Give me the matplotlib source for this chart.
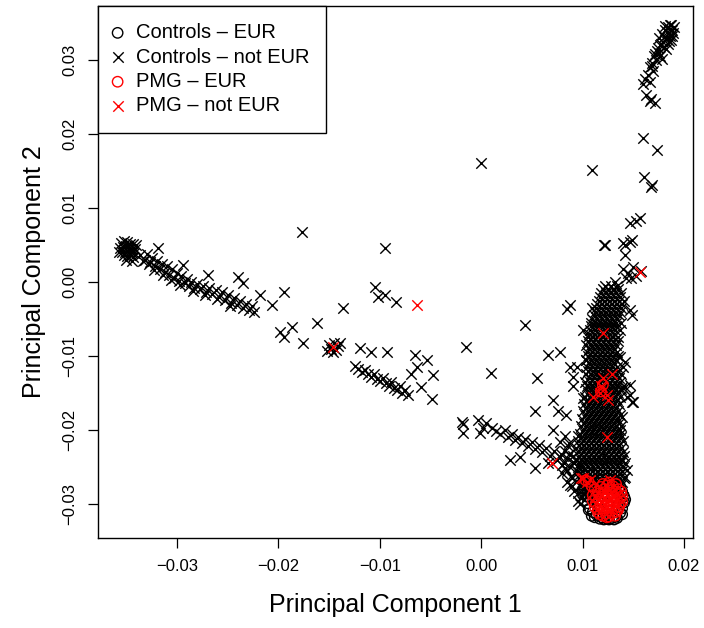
import matplotlib
matplotlib.use("Agg")
import matplotlib.pyplot as plt
import numpy as np

plt.rcParams['font.family'] = ['Liberation Sans', 'DejaVu Sans']

# ---- data ----
x_ticks = [-0.03, -0.02, -0.01, 0.00, 0.01, 0.02]
x_tick_labels = ['\u22120.03', '\u22120.02', '\u22120.01', '0.00', '0.01', '0.02']
y_ticks = [-0.03, -0.02, -0.01, 0.00, 0.01, 0.02, 0.03]
y_tick_labels = ['\u22120.03', '\u22120.02', '\u22120.01', '0.00', '0.01', '0.02', '0.03']
legend_labels = ['Controls \u2013 EUR', 'Controls \u2013 not EUR', 'PMG \u2013 EUR', 'PMG \u2013 not EUR']

# controls, not EUR: left blob and trail
left_x = [-0.0355, -0.0352, -0.0349, -0.0346, -0.0343, -0.0340, -0.0356, -0.0353, -0.0350, -0.0347,
          -0.0344, -0.0341, -0.0354, -0.0351, -0.0348, -0.0345, -0.0342, -0.0352, -0.0349, -0.0346,
          -0.0343, -0.0357, -0.0350, -0.0344,
          -0.0336, -0.0332, -0.0330, -0.0327, -0.0325, -0.0322, -0.0320, -0.0319, -0.0317, -0.0315,
          -0.0312, -0.0310, -0.0308, -0.0305, -0.0303, -0.0300, -0.0298, -0.0296, -0.0294, -0.0292,
          -0.0290, -0.0288, -0.0286, -0.0283, -0.0280, -0.0277, -0.0274, -0.0271, -0.0269, -0.0268,
          -0.0265, -0.0262, -0.0259, -0.0256, -0.0253, -0.0250, -0.0247, -0.0244, -0.0241, -0.0240,
          -0.0238, -0.0235, -0.0235, -0.0232, -0.0229, -0.0226, -0.0224,
          -0.0218, -0.0206, -0.0194, -0.0198, -0.0187, -0.0194, -0.0177, -0.0176, -0.0162,
          -0.0334, -0.0328, -0.0323, -0.0314, -0.0306, -0.0297, -0.0284, -0.0272, -0.0261, -0.0248]
left_y = [0.0053, 0.0055, 0.0054, 0.0052, 0.0051, 0.0050, 0.0046, 0.0047, 0.0048, 0.0046,
          0.0045, 0.0044, 0.0041, 0.0040, 0.0042, 0.0040, 0.0039, 0.0036, 0.0035, 0.0037,
          0.0034, 0.0040, 0.0030, 0.0028,
          0.0036, 0.0030, 0.0038, 0.0027, 0.0033, 0.0022, 0.0029, 0.0046, 0.0018, 0.0025,
          0.0014, 0.0021, 0.0010, 0.0017, 0.0006, 0.0012, 0.0002, 0.0008, 0.0023, -0.0002,
          0.0004, -0.0006, 0.0000, -0.0008, -0.0003, -0.0010, -0.0005, -0.0014, 0.0009, -0.0008,
          -0.0016, -0.0011, -0.0020, -0.0014, -0.0024, -0.0018, -0.0028, -0.0022, -0.0031, 0.0007,
          -0.0026, -0.0001, -0.0035, -0.0030, -0.0038, -0.0033, -0.0040,
          -0.0018, -0.0031, -0.0014, -0.0068, -0.0061, -0.0074, 0.0068, -0.0082, -0.0055,
          0.0029, 0.0024, 0.0016, 0.0009, 0.0003, -0.0004, -0.0012, -0.0018, -0.0023, -0.0032]

# controls, not EUR: middle region
mid_x = [-0.0150, -0.0148, -0.0145, -0.0143, -0.0141, -0.0152, -0.0146, -0.0139,
         -0.0136, -0.0120, -0.0109, -0.0093, -0.0095, -0.0105, -0.0102, -0.0095, -0.0084,
         -0.0015, 0.0010, 0.0000,
         -0.0124, -0.0121, -0.0118, -0.0115, -0.0112, -0.0109, -0.0106, -0.0103, -0.0100, -0.0097,
         -0.0094, -0.0091, -0.0089, -0.0086, -0.0083, -0.0080, -0.0078, -0.0075, -0.0072,
         -0.0065, -0.0053, -0.0063, -0.0048, -0.0059, -0.0049, -0.0069]
mid_y = [-0.0085, -0.0090, -0.0083, -0.0092, -0.0087, -0.0093, -0.0095, -0.0082,
         -0.0035, -0.0089, -0.0095, -0.0095, 0.0046, -0.0007, -0.0020, -0.0018, -0.0027,
         -0.0088, -0.0123, 0.0161,
         -0.0113, -0.0118, -0.0121, -0.0119, -0.0124, -0.0128, -0.0125, -0.0131, -0.0134, -0.0130,
         -0.0137, -0.0140, -0.0135, -0.0143, -0.0146, -0.0140, -0.0150, -0.0146, -0.0153,
         -0.0099, -0.0105, -0.0115, -0.0126, -0.0142, -0.0158, -0.0125]

# controls, not EUR: bottom arm towards the main cluster
arm_x = [-0.0019, -0.0018, -0.0018, -0.0003, -0.0001, 0.0002, 0.0011, 0.0005, 0.0015, 0.0019,
         0.0023, 0.0026, 0.0030, 0.0033, 0.0036, 0.0040, 0.0043, 0.0046, 0.0050, 0.0053,
         0.0057, 0.0053, 0.0076, 0.0028, 0.0038, 0.0053, 0.0071, 0.0078, 0.0060, 0.0064,
         0.0068, 0.0072, 0.0075, 0.0079, 0.0082, 0.0085, 0.0088, 0.0091, 0.0094, 0.0097,
         0.0089, 0.0093, 0.0098, 0.0101, 0.0103, 0.0086, 0.0083, 0.0066, 0.0080, 0.0085,
         0.0092, 0.0099, 0.0087, 0.0090, 0.0083, 0.0095, 0.0097,
         0.0085, 0.0090, 0.0080, 0.0088, 0.0095, 0.0078, 0.0083, 0.0087]
arm_y = [-0.0189, -0.0192, -0.0204, -0.0186, -0.0204, -0.0197, -0.0197, -0.0190, -0.0202, -0.0205,
         -0.0200, -0.0210, -0.0206, -0.0214, -0.0209, -0.0218, -0.0212, -0.0222, -0.0216, -0.0226,
         -0.0220, -0.0174, -0.0174, -0.0241, -0.0236, -0.0251, -0.0200, -0.0216, -0.0230, -0.0224,
         -0.0235, -0.0228, -0.0240, -0.0232, -0.0245, -0.0238, -0.0250, -0.0243, -0.0256, -0.0249,
         -0.0262, -0.0270, -0.0276, -0.0262, -0.0284, -0.0222, -0.0208, -0.0244, -0.0258, -0.0270,
         -0.0282, -0.0290, -0.0232, -0.0276, -0.0252, -0.0296, -0.0300,
         -0.0255, -0.0265, -0.0248, -0.0275, -0.0285, -0.0237, -0.0228, -0.0218]

# controls, not EUR: scattered points beside the vertical band
side_x = [0.0043, 0.0088, 0.0078, 0.0066, 0.0055, 0.0071, 0.0084, 0.0095, 0.0100, 0.0094,
          0.0100, 0.0103, 0.0085, 0.0109, 0.0088, 0.0091, 0.0091,
          0.0122, 0.0142, 0.0147, 0.0142, 0.0140, 0.0145, 0.0150, 0.0153, 0.0148, 0.0158, 0.0143,
          0.0147, 0.0149, 0.0137, 0.0142, 0.0140, 0.0142, 0.0147, 0.0149, 0.0139, 0.0147, 0.0144,
          0.0150, 0.0139, 0.0137, 0.0139, 0.0144, 0.0142, 0.0132]
side_y = [-0.0058, -0.0031, -0.0095, -0.0099, -0.0130, -0.0159, -0.0180, -0.0208, -0.0157, -0.0115,
          -0.0065, -0.0105, -0.0036, -0.0035, -0.0115, -0.0128, -0.0141,
          0.0050, 0.0050, 0.0054, 0.0036, 0.0018, 0.0012, 0.0020, 0.0008, 0.0005, 0.0015, 0.0005,
          -0.0038, -0.0045, -0.0101, -0.0108, -0.0115, -0.0142, -0.0153, -0.0162, -0.0142, -0.0139,
          -0.0155, -0.0162, -0.0182, -0.0200, -0.0241, -0.0254, -0.0264, 0.0000]

# controls, not EUR: top right group
top_x = [0.0178, 0.0181, 0.0184, 0.0187, 0.0182, 0.0185, 0.0188, 0.0179, 0.0183, 0.0186,
         0.0189, 0.0176, 0.0180, 0.0184, 0.0190, 0.0186, 0.0181, 0.0175, 0.0187,
         0.0173, 0.0170, 0.0172, 0.0168, 0.0166, 0.0169, 0.0164, 0.0162, 0.0166, 0.0160,
         0.0175, 0.0178, 0.0163, 0.0167, 0.0171, 0.0166,
         0.0160, 0.0173, 0.0109, 0.0161, 0.0167, 0.0168, 0.0147, 0.0157, 0.0153, 0.0121,
         0.0140, 0.0149,
         0.0183, 0.0188, 0.0180, 0.0185, 0.0177, 0.0182, 0.0174, 0.0171, 0.0176, 0.0168]
top_y = [0.0335, 0.0340, 0.0344, 0.0347, 0.0330, 0.0336, 0.0341, 0.0325, 0.0328, 0.0332,
         0.0337, 0.0320, 0.0318, 0.0322, 0.0344, 0.0348, 0.0346, 0.0330, 0.0327,
         0.0312, 0.0305, 0.0300, 0.0296, 0.0290, 0.0285, 0.0280, 0.0274, 0.0270, 0.0268,
         0.0310, 0.0302, 0.0253, 0.0248, 0.0242, 0.0245,
         0.0195, 0.0178, 0.0151, 0.0142, 0.0128, 0.0131, 0.0080, 0.0086, 0.0083, 0.0050,
         0.0053, 0.0057,
         0.0338, 0.0333, 0.0331, 0.0326, 0.0322, 0.0315, 0.0316, 0.0308, 0.0306, 0.0292]

# controls, not EUR: the dense vertical band, one row of PC1 values per PC2 level
band_y = [-0.0010, -0.0020, -0.0030, -0.0040, -0.0050, -0.0060, -0.0070, -0.0080, -0.0090,
          -0.0100, -0.0110, -0.0120, -0.0130, -0.0140, -0.0150, -0.0160, -0.0170, -0.0180,
          -0.0190, -0.0200, -0.0210, -0.0220, -0.0230, -0.0240, -0.0250, -0.0260, -0.0270,
          -0.0280, -0.0290]
band_x = [
    [0.0120, 0.0125, 0.0130, 0.0135],
    [0.0117, 0.0122, 0.0127, 0.0132, 0.0137],
    [0.0114, 0.0119, 0.0124, 0.0129, 0.0134, 0.0139],
    [0.0112, 0.0117, 0.0122, 0.0127, 0.0132, 0.0137],
    [0.0109, 0.0114, 0.0119, 0.0124, 0.0129, 0.0134],
    [0.0108, 0.0113, 0.0118, 0.0123, 0.0128, 0.0133],
    [0.0106, 0.0111, 0.0116, 0.0121, 0.0126, 0.0131],
    [0.0105, 0.0110, 0.0115, 0.0120, 0.0125, 0.0130, 0.0135],
    [0.0106, 0.0111, 0.0116, 0.0121, 0.0126, 0.0131],
    [0.0105, 0.0110, 0.0115, 0.0120, 0.0125, 0.0130, 0.0135],
    [0.0106, 0.0111, 0.0116, 0.0121, 0.0126, 0.0131],
    [0.0105, 0.0110, 0.0115, 0.0120, 0.0125, 0.0130, 0.0135],
    [0.0106, 0.0111, 0.0116, 0.0121, 0.0126, 0.0131, 0.0136],
    [0.0104, 0.0109, 0.0114, 0.0119, 0.0124, 0.0129, 0.0134],
    [0.0105, 0.0110, 0.0115, 0.0120, 0.0125, 0.0130, 0.0135],
    [0.0104, 0.0109, 0.0114, 0.0119, 0.0124, 0.0129, 0.0134],
    [0.0103, 0.0108, 0.0113, 0.0118, 0.0123, 0.0128, 0.0133],
    [0.0102, 0.0107, 0.0112, 0.0117, 0.0122, 0.0127, 0.0132, 0.0137],
    [0.0101, 0.0106, 0.0111, 0.0116, 0.0121, 0.0126, 0.0131, 0.0136],
    [0.0100, 0.0105, 0.0110, 0.0115, 0.0120, 0.0125, 0.0130, 0.0135],
    [0.0098, 0.0103, 0.0108, 0.0113, 0.0118, 0.0123, 0.0128, 0.0133, 0.0138],
    [0.0096, 0.0101, 0.0106, 0.0111, 0.0116, 0.0121, 0.0126, 0.0131, 0.0136],
    [0.0095, 0.0100, 0.0105, 0.0110, 0.0115, 0.0120, 0.0125, 0.0130, 0.0135, 0.0140],
    [0.0093, 0.0098, 0.0103, 0.0108, 0.0113, 0.0118, 0.0123, 0.0128, 0.0133, 0.0138],
    [0.0095, 0.0100, 0.0105, 0.0110, 0.0115, 0.0120, 0.0125, 0.0130, 0.0135, 0.0140],
    [0.0097, 0.0102, 0.0107, 0.0112, 0.0117, 0.0122, 0.0127, 0.0132, 0.0137],
    [0.0099, 0.0104, 0.0109, 0.0114, 0.0119, 0.0124, 0.0129, 0.0134, 0.0139],
    [0.0101, 0.0106, 0.0111, 0.0116, 0.0121, 0.0126, 0.0131, 0.0136],
    [0.0104, 0.0109, 0.0114, 0.0135, 0.0140],
]
band2_y = [-0.0005, -0.0015, -0.0025, -0.0035, -0.0045, -0.0055, -0.0065, -0.0075, -0.0085,
           -0.0095, -0.0105, -0.0115, -0.0125, -0.0135, -0.0145, -0.0155, -0.0165, -0.0175,
           -0.0185, -0.0195, -0.0205, -0.0215, -0.0225, -0.0235, -0.0245, -0.0255, -0.0265,
           -0.0275, -0.0285]
band2_x = [
    [0.0122, 0.0128, 0.0134],
    [0.0118, 0.0123, 0.0128, 0.0133, 0.0138],
    [0.0116, 0.0121, 0.0126, 0.0131, 0.0136, 0.0141],
    [0.0113, 0.0118, 0.0123, 0.0128, 0.0133, 0.0138],
    [0.0111, 0.0116, 0.0121, 0.0126, 0.0131, 0.0136],
    [0.0108, 0.0113, 0.0118, 0.0123, 0.0128, 0.0133, 0.0138],
    [0.0107, 0.0112, 0.0117, 0.0122, 0.0127, 0.0132, 0.0137],
    [0.0105, 0.0110, 0.0115, 0.0120, 0.0125, 0.0130, 0.0135],
    [0.0103, 0.0108, 0.0113, 0.0118, 0.0123, 0.0128, 0.0133],
    [0.0104, 0.0109, 0.0114, 0.0119, 0.0124, 0.0129, 0.0134],
    [0.0103, 0.0108, 0.0113, 0.0118, 0.0123, 0.0128, 0.0133],
    [0.0104, 0.0109, 0.0114, 0.0119, 0.0124, 0.0129, 0.0134],
    [0.0103, 0.0108, 0.0113, 0.0118, 0.0123, 0.0128, 0.0133, 0.0138],
    [0.0102, 0.0107, 0.0112, 0.0117, 0.0122, 0.0127, 0.0132, 0.0137],
    [0.0103, 0.0108, 0.0113, 0.0118, 0.0123, 0.0128, 0.0133, 0.0138],
    [0.0102, 0.0107, 0.0112, 0.0117, 0.0122, 0.0127, 0.0132, 0.0137],
    [0.0101, 0.0106, 0.0111, 0.0116, 0.0121, 0.0126, 0.0131, 0.0136],
    [0.0100, 0.0105, 0.0110, 0.0115, 0.0120, 0.0125, 0.0130, 0.0135],
    [0.0099, 0.0104, 0.0109, 0.0114, 0.0119, 0.0124, 0.0129, 0.0134],
    [0.0098, 0.0103, 0.0108, 0.0113, 0.0118, 0.0123, 0.0128, 0.0133, 0.0138],
    [0.0097, 0.0102, 0.0107, 0.0112, 0.0117, 0.0122, 0.0127, 0.0132, 0.0137],
    [0.0095, 0.0100, 0.0105, 0.0110, 0.0115, 0.0120, 0.0125, 0.0130, 0.0135, 0.0140],
    [0.0093, 0.0098, 0.0103, 0.0108, 0.0113, 0.0118, 0.0123, 0.0128, 0.0133, 0.0138],
    [0.0091, 0.0096, 0.0101, 0.0106, 0.0111, 0.0116, 0.0121, 0.0126, 0.0131, 0.0136, 0.0141],
    [0.0092, 0.0097, 0.0102, 0.0107, 0.0112, 0.0117, 0.0122, 0.0127, 0.0132, 0.0137, 0.0142],
    [0.0094, 0.0099, 0.0104, 0.0109, 0.0114, 0.0119, 0.0124, 0.0129, 0.0134, 0.0139],
    [0.0096, 0.0101, 0.0106, 0.0111, 0.0116, 0.0121, 0.0126, 0.0131, 0.0136, 0.0141],
    [0.0098, 0.0103, 0.0108, 0.0113, 0.0118, 0.0123, 0.0128, 0.0133, 0.0138],
    [0.0101, 0.0106, 0.0111, 0.0132, 0.0137],
]

# controls, EUR (black circles)
ctrl_eur_x = [0.0104, 0.0105, 0.0107, 0.0110, 0.0114, 0.0119, 0.0124, 0.0129, 0.0133, 0.0137,
              0.0139, 0.0141, 0.0141, 0.0139, 0.0137, 0.0134, 0.0130, 0.0125, 0.0119, 0.0113,
              0.0108, 0.0105, 0.0102, 0.0109, 0.0117, 0.0126, 0.0134, 0.0139, 0.0142, 0.0100,
              0.0115, 0.0125, 0.0130, 0.0120, 0.0135, 0.0118, 0.0125, 0.0115, 0.0120, 0.0110,
              0.0102, 0.0106, 0.0112, 0.0121, 0.0131]
ctrl_eur_y = [-0.0290, -0.0299, -0.0306, -0.0311, -0.0315, -0.0318, -0.0320, -0.0319, -0.0317, -0.0312,
              -0.0306, -0.0298, -0.0290, -0.0283, -0.0276, -0.0270, -0.0267, -0.0266, -0.0267, -0.0271,
              -0.0277, -0.0283, -0.0295, -0.0316, -0.0320, -0.0321, -0.0319, -0.0314, -0.0294, -0.0287,
              -0.0295, -0.0300, -0.0290, -0.0285, -0.0305, -0.0120, -0.0150, -0.0200, -0.0240, -0.0260,
              -0.0280, -0.0308, -0.0318, -0.0321, -0.0321]

# PMG, EUR (red circles)
pmg_eur_x = [0.0112, 0.0118, 0.0124, 0.0130, 0.0135, 0.0110, 0.0116, 0.0122, 0.0128, 0.0134,
             0.0139, 0.0110, 0.0116, 0.0122, 0.0128, 0.0134, 0.0139, 0.0112, 0.0118, 0.0124,
             0.0130, 0.0136, 0.0115, 0.0121, 0.0127, 0.0133, 0.0120, 0.0126, 0.0132, 0.0125,
             0.0119, 0.0131, 0.0126, 0.0121, 0.0129, 0.0106, 0.0109, 0.0103, 0.0120, 0.0118,
             0.0115, 0.0121, 0.0127, 0.0133, 0.0113, 0.0119, 0.0125, 0.0131, 0.0137, 0.0113,
             0.0119, 0.0125, 0.0131, 0.0137, 0.0115, 0.0123, 0.0129, 0.0135, 0.0124, 0.0117,
             0.0133, 0.0126, 0.0120, 0.0138]
pmg_eur_y = [-0.0280, -0.0277, -0.0275, -0.0276, -0.0280, -0.0288, -0.0286, -0.0284, -0.0285, -0.0287,
             -0.0289, -0.0296, -0.0294, -0.0293, -0.0294, -0.0295, -0.0297, -0.0304, -0.0302, -0.0301,
             -0.0302, -0.0304, -0.0311, -0.0309, -0.0309, -0.0311, -0.0316, -0.0317, -0.0316, -0.0290,
             -0.0298, -0.0298, -0.0305, -0.0289, -0.0281, -0.0270, -0.0276, -0.0268, -0.0139, -0.0148,
             -0.0283, -0.0280, -0.0280, -0.0283, -0.0291, -0.0290, -0.0288, -0.0290, -0.0292, -0.0300,
             -0.0306, -0.0296, -0.0306, -0.0300, -0.0307, -0.0313, -0.0313, -0.0308, -0.0318, -0.0314,
             -0.0273, -0.0271, -0.0273, -0.0283]

# PMG, not EUR (red crosses)
pmg_not_x = [0.0157, -0.0063, -0.0146, 0.0120, 0.0129, 0.0120, 0.0119, 0.0110, 0.0124, 0.0125,
             0.0117, 0.0124, 0.0100, 0.0107, 0.0127, 0.0098, 0.0070, 0.0104, 0.0118]
pmg_not_y = [0.0014, -0.0031, -0.0088, -0.0069, -0.0124, -0.0130, -0.0142, -0.0155, -0.0153, -0.0159,
             -0.0150, -0.0209, -0.0265, -0.0268, -0.0268, -0.0265, -0.0245, -0.0270, -0.0141]

band_px = [x for row in band_x + band2_x for x in row]
band_py = [y for y, row in zip(band_y + band2_y, band_x + band2_x) for _ in row]

ctrl_not_x = left_x + mid_x + arm_x + side_x + top_x + band_px
ctrl_not_y = left_y + mid_y + arm_y + side_y + top_y + band_py

# ---- plot ----
fig = plt.figure(figsize=(7.04, 6.28), dpi=100)
ax = fig.add_axes([0.1399, 0.1433, 0.8441, 0.8471])

ms = 7.5
lw = 1.0
ax.scatter(ctrl_eur_x, ctrl_eur_y, s=ms**2, marker='o', facecolors='none',
           edgecolors='black', linewidths=lw, label=legend_labels[0])
ax.scatter(ctrl_not_x, ctrl_not_y, s=ms**2, marker='x', color='black',
           linewidths=lw, label=legend_labels[1])
ax.scatter(pmg_eur_x, pmg_eur_y, s=ms**2, marker='o', facecolors='none',
           edgecolors='red', linewidths=lw, label=legend_labels[2])
ax.scatter(pmg_not_x, pmg_not_y, s=ms**2, marker='x', color='red',
           linewidths=lw, label=legend_labels[3])

ax.set_xlim(-0.03774, 0.02086)
ax.set_ylim(-0.0346, 0.0373)
ax.set_xticks(x_ticks)
ax.set_xticklabels(x_tick_labels)
ax.set_yticks(y_ticks)
ax.set_yticklabels(y_tick_labels, rotation=90, va='center')
ax.tick_params(axis='both', direction='out', length=7, width=0.9, labelsize=12, pad=8)
for sp in ax.spines.values():
    sp.set_linewidth(1.0)
    sp.set_color('black')

ax.set_xlabel('Principal Component 1', fontsize=18, labelpad=14)
ax.set_ylabel('Principal Component 2', fontsize=18, labelpad=12)

leg = ax.legend(loc='upper left', borderaxespad=0, fontsize=14.5, frameon=True,
                fancybox=False, edgecolor='black', framealpha=1, handlelength=0.2,
                handletextpad=0.8, labelspacing=0.27, borderpad=0.85, scatterpoints=1)
leg.get_frame().set_linewidth(1.0)

fig.savefig('out.png', dpi=100)
